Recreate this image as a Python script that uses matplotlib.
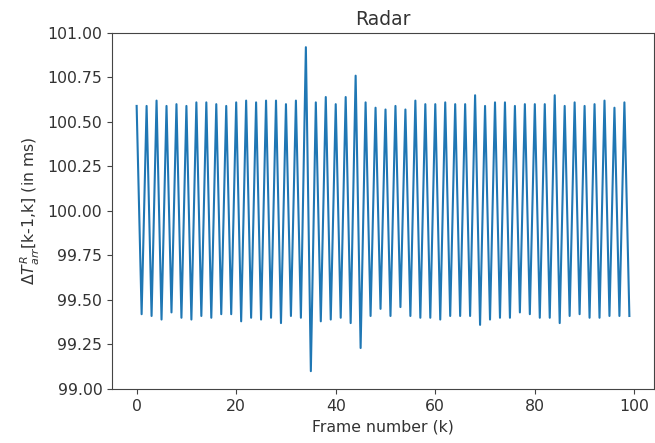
import numpy as np
import matplotlib
matplotlib.use('Agg')
import matplotlib.pyplot as plt
from matplotlib.ticker import FormatStrFormatter

# Frame-to-frame arrival interval of the radar (ms), k = 0..99
frames = np.arange(100)
peaks = [100.59, 100.59, 100.62, 100.59, 100.60, 100.59, 100.61, 100.61, 100.60, 100.59,
         100.61, 100.62, 100.61, 100.62, 100.62, 100.60, 100.62, 100.92, 100.61, 100.64,
         100.60, 100.64, 100.76, 100.61, 100.58, 100.57, 100.59, 100.57, 100.62, 100.60,
         100.60, 100.61, 100.60, 100.60, 100.65, 100.59, 100.61, 100.61, 100.59, 100.60,
         100.60, 100.60, 100.65, 100.59, 100.61, 100.59, 100.60, 100.62, 100.58, 100.61]
troughs = [99.42, 99.41, 99.39, 99.43, 99.40, 99.39, 99.41, 99.40, 99.42, 99.42,
           99.38, 99.40, 99.39, 99.40, 99.37, 99.41, 99.40, 99.10, 99.38, 99.39,
           99.40, 99.37, 99.23, 99.41, 99.45, 99.41, 99.46, 99.41, 99.40, 99.40,
           99.39, 99.41, 99.41, 99.41, 99.36, 99.39, 99.40, 99.40, 99.43, 99.42,
           99.40, 99.40, 99.37, 99.41, 99.42, 99.40, 99.40, 99.41, 99.41, 99.41]
delta_t = np.empty(100)
delta_t[0::2] = peaks
delta_t[1::2] = troughs

fs = 11.3
txt = '#333333'
fig = plt.figure(figsize=(6.55, 4.43), dpi=100)
ax = fig.add_axes([0.171, 0.122, 0.8275, 0.8036])
ax.plot(frames, delta_t, color='#1f77b4', linewidth=1.5)

ax.set_ylim(99.0, 101.0)
ax.set_yticks(np.arange(99.0, 101.01, 0.25))
ax.yaxis.set_major_formatter(FormatStrFormatter('%.2f'))
ax.set_xticks(np.arange(0, 101, 20))
ax.tick_params(labelsize=fs, labelcolor=txt, color='#444444')
for sp in ax.spines.values():
    sp.set_color('#444444')

ax.set_title('Radar', fontsize=13.5, color=txt)
ax.set_xlabel('Frame number (k)', fontsize=fs, color=txt)
ax.set_ylabel(r'$\Delta T^{R}_{arr}$[k-1,k] (in ms)', fontsize=fs, color=txt)

plt.savefig('out.png', dpi=100, facecolor='white')
